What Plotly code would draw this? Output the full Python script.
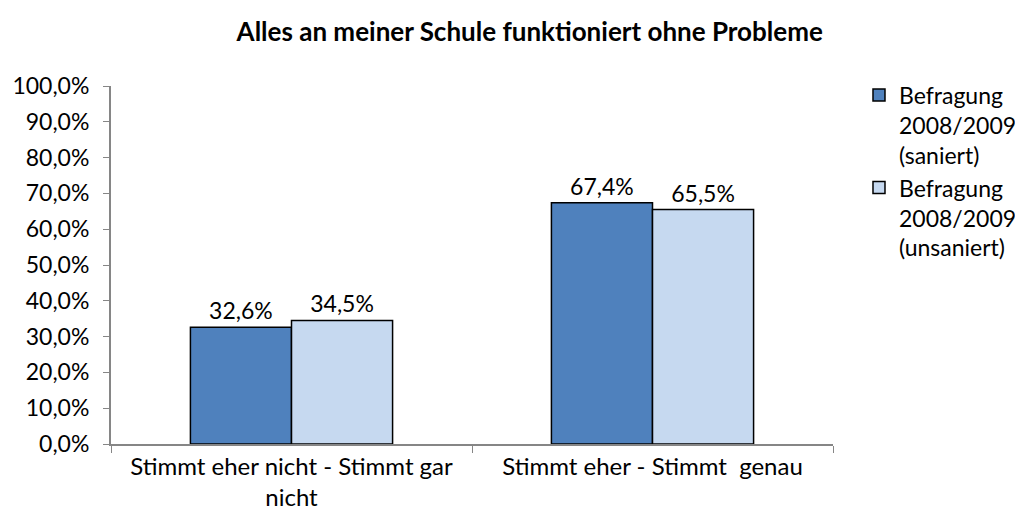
import plotly.graph_objects as go

categories = ["Stimmt eher nicht - Stimmt gar<br>nicht", "Stimmt eher - Stimmt  genau"]
saniert = [32.6, 67.4]
unsaniert = [34.5, 65.5]
series_names = ["Befragung<br>2008/2009<br>(saniert)", "Befragung<br>2008/2009<br>(unsaniert)"]
y_ticks = [0, 10, 20, 30, 40, 50, 60, 70, 80, 90, 100]
y_tick_text = [f"{v:.1f}".replace(".", ",") + "%" for v in y_ticks]

FONT = "Lato"
FS = 24
fig = go.Figure()
for name, vals, col in [(series_names[0], saniert, "#4F81BD"), (series_names[1], unsaniert, "#C6D9F0")]:
    fig.add_trace(go.Bar(
        x=categories, y=vals, name=name,
        marker=dict(color=col, line=dict(color="#000000", width=1.5)),
        texttemplate="%{y:.1f}%",
        textposition="outside",
        textfont=dict(size=FS - 1, color="#000000", family=FONT),
        cliponaxis=False,
    ))

fig.update_layout(
    width=1023, height=526,
    separators=",.",
    paper_bgcolor="white", plot_bgcolor="white",
    margin=dict(l=103, r=198, t=78, b=90, autoexpand=False),
    barmode="group", bargap=0.44, bargroupgap=0,
    title=dict(text="<b>Alles an meiner Schule funktioniert ohne Probleme</b>",
               x=0.51, xanchor="center", y=0.954, yanchor="middle",
               font=dict(family=FONT, size=26, color="#000000")),
    font=dict(family=FONT, size=FS, color="#000000"),
    legend=dict(x=1.036, y=1.035, xanchor="left", yanchor="top",
                font=dict(family=FONT, size=23, color="#000000"),
                itemwidth=30, tracegroupgap=0, traceorder="normal", valign="top"),
    showlegend=True,
)
fig.update_xaxes(
    type="category", showline=True, linecolor="#868686", linewidth=2,
    ticks="outside", tickson="boundaries", ticklen=7, tickcolor="#868686",
    tickfont=dict(family=FONT, size=FS, color="#000000"), showgrid=False,
    automargin=False,
)
fig.update_yaxes(
    range=[0, 100], tickvals=y_ticks, ticktext=y_tick_text,
    showline=True, linecolor="#868686", linewidth=2,
    ticks="outside", ticklen=6, tickcolor="#868686", ticklabelstandoff=9,
    tickfont=dict(family=FONT, size=FS - 1, color="#000000"),
    showgrid=False, zeroline=False, automargin=False,
)
fig.write_html("out.html")
